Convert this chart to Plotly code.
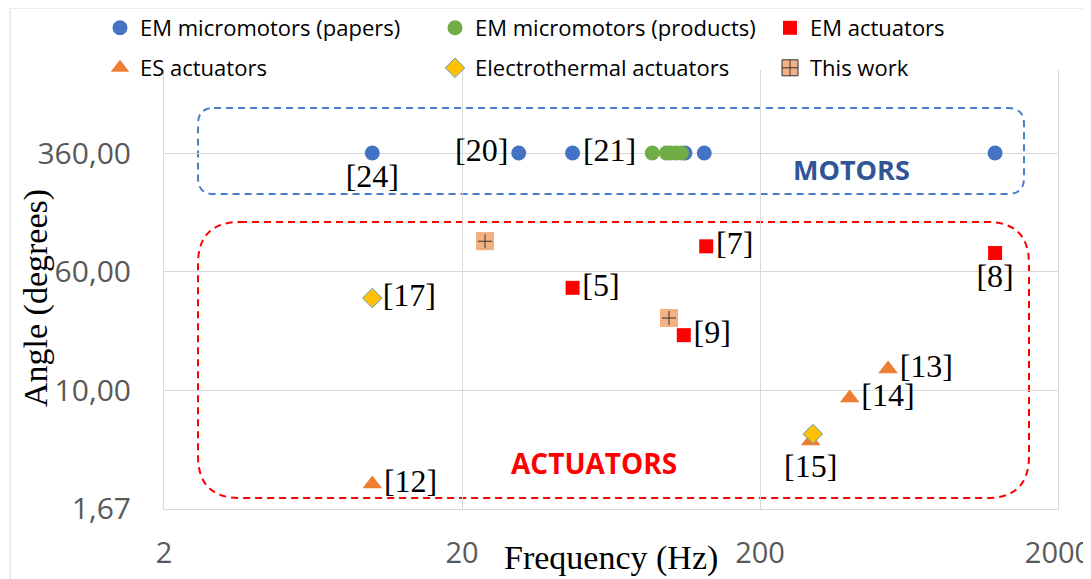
import plotly.graph_objects as go

# ---------------- data ----------------
papers_freq = [10, 31, 47, 112, 130, 1230]
papers_angle = [360, 360, 360, 360, 360, 360]
papers_refs = ["[24]", "[20]", "[21]", "", "", ""]
papers_pos = ["bottom center", "middle left", "middle right", "middle right", "middle right", "middle right"]

products_freq = [87, 97, 100, 104, 109]
products_angle = [360, 360, 360, 360, 360]

em_act_freq = [47, 132, 111, 1230]
em_act_angle = [47, 88, 23, 79.5]
em_act_refs = ["[5]", "[7]", "[9]", "[8]"]
em_act_pos = ["middle right", "middle right", "middle right", "bottom center"]

es_freq = [10, 538, 400, 296]
es_angle = [2.43, 13.8, 8.9, 4.65]
es_refs = ["[12]", "[13]", "[14]", "[15]"]
es_pos = ["middle right", "middle right", "middle right", "bottom center"]

et_freq = [10, 301]
et_angle = [40.3, 5.17]
et_refs = ["[17]", ""]
et_pos = ["middle right", "middle right"]

this_freq = [23.9, 99]
this_angle = [95, 29.8]

x_tickvals = [2, 20, 200, 2000]
x_ticktext = ["2", "20", "200", "2000"]
y_tickvals = [1.667, 10, 60, 360]
y_ticktext = ["1,67", "10,00", "60,00", "360,00"]

# ---------------- layout geometry ----------------
OFF = 8  # page body margin
W, H = 1083, 571
L, R, T, B = 156, 33, 62, 70
PW, PH = W - L - R, H - T - B


def sx(xs):
    # screen x -> paper fraction
    return (xs - OFF - L) / PW


def sy(ys):
    # screen y -> paper fraction
    return (H - B - (ys - OFF)) / PH


LAB = dict(family="Liberation Serif", size=32, color="black")

fig = go.Figure()
fig.add_trace(go.Scatter(x=papers_freq, y=papers_angle, mode="markers+text", name="EM micromotors (papers)",
                         marker=dict(symbol="circle", size=15, color="#4472C4"),
                         text=papers_refs, textposition=papers_pos, textfont=LAB, legend="legend"))
fig.add_trace(go.Scatter(x=products_freq, y=products_angle, mode="markers", name="EM micromotors (products)",
                         marker=dict(symbol="circle", size=15, color="#70AD47"), legend="legend"))
fig.add_trace(go.Scatter(x=em_act_freq, y=em_act_angle, mode="markers+text", name="EM actuators",
                         marker=dict(symbol="square", size=14, color="#FF0000"),
                         text=em_act_refs, textposition=em_act_pos, textfont=LAB, legend="legend"))
fig.add_trace(go.Scatter(x=es_freq, y=es_angle, mode="markers+text", name="ES actuators",
                         marker=dict(symbol="triangle-up", size=17, color="#ED7D31"),
                         text=es_refs, textposition=es_pos, textfont=LAB, legend="legend2"))
fig.add_trace(go.Scatter(x=et_freq, y=et_angle, mode="markers+text", name="Electrothermal actuators",
                         marker=dict(symbol="diamond", size=15, color="#FFC000",
                                     line=dict(color="#5B9BD5", width=1)),
                         text=et_refs, textposition=et_pos, textfont=LAB, legend="legend2"))
fig.add_trace(go.Scatter(x=this_freq, y=this_angle, mode="markers", name="This work",
                         marker=dict(symbol="square-cross", size=16, color="#F4B183",
                                     line=dict(color="#333333", width=1)), legend="legend2"))
fig.add_trace(go.Scatter(x=this_freq, y=this_angle, mode="markers", showlegend=False, hoverinfo="skip",
                         marker=dict(symbol="square-open", size=16, color="#F4B183",
                                     line=dict(color="#F4B183", width=2))))


def rounded(x0, y0, x1, y1, r):
    # screen pixel coords -> paper path with rounded corners
    pts = [
        f"M {sx(x0 + r)},{sy(y0)}",
        f"L {sx(x1 - r)},{sy(y0)}",
        f"Q {sx(x1)},{sy(y0)} {sx(x1)},{sy(y0 + r)}",
        f"L {sx(x1)},{sy(y1 - r)}",
        f"Q {sx(x1)},{sy(y1)} {sx(x1 - r)},{sy(y1)}",
        f"L {sx(x0 + r)},{sy(y1)}",
        f"Q {sx(x0)},{sy(y1)} {sx(x0)},{sy(y1 - r)}",
        f"L {sx(x0)},{sy(y0 + r)}",
        f"Q {sx(x0)},{sy(y0)} {sx(x0 + r)},{sy(y0)}",
        "Z",
    ]
    return " ".join(pts)


shapes = [
    dict(type="path", xref="paper", yref="paper", path=rounded(198, 108, 1024, 194, 16),
         line=dict(color="#4A7EC7", width=2, dash="7px,5px"), layer="below"),
    dict(type="path", xref="paper", yref="paper", path=rounded(198, 222, 1029, 498, 42),
         line=dict(color="#FF0000", width=2, dash="7px,5px"), layer="below"),
    dict(type="rect", xref="paper", yref="paper", x0=sx(10), y0=sy(8), x1=sx(1200), y1=sy(700),
         line=dict(color="#D9D9D9", width=1), layer="below"),
]

annotations = [
    dict(text="<b>MOTORS</b>", x=sx(851), y=sy(169), xref="paper", yref="paper", showarrow=False,
         font=dict(family="Open Sans", size=27, color="#2F5597"), xanchor="center", yanchor="middle"),
    dict(text="<b>ACTUATORS</b>", x=sx(594), y=sy(463), xref="paper", yref="paper", showarrow=False,
         font=dict(family="Open Sans", size=28, color="#FF0000"), xanchor="center", yanchor="middle"),
    dict(text="Frequency (Hz)", x=sx(611), y=sy(558), xref="paper", yref="paper", showarrow=False,
         font=dict(family="Liberation Serif", size=34, color="black"), xanchor="center", yanchor="middle"),
    dict(text="Angle (degrees)", x=sx(36), y=sy(298), xref="paper", yref="paper", showarrow=False,
         textangle=-90, font=dict(family="Liberation Serif", size=34, color="black"),
         xanchor="center", yanchor="middle"),
]

LEG = dict(orientation="h", font=dict(family="Open Sans", size=22, color="black"),
           bgcolor="rgba(0,0,0,0)", borderwidth=0, entrywidth=290, entrywidthmode="pixels",
           xanchor="left", yanchor="middle", itemwidth=30)

fig.update_layout(
    width=W, height=H,
    margin=dict(l=L, r=R, t=T, b=B, autoexpand=False),
    paper_bgcolor="white", plot_bgcolor="white",
    shapes=shapes, annotations=annotations,
    legend=dict(LEG, x=sx(100), y=sy(28)),
    legend2=dict(LEG, x=sx(100), y=sy(68)),
    xaxis=dict(type="log", range=[0.30103, 3.30103], tickvals=x_tickvals, ticktext=x_ticktext,
               showgrid=True, gridcolor="#D9D9D9", gridwidth=1, zeroline=False, automargin=False,
               showline=True, linecolor="#D9D9D9", linewidth=1, ticks="", ticklabelstandoff=18,
               ticklabeloverflow="allow",
               tickfont=dict(family="Open Sans", size=29, color="#595959")),
    yaxis=dict(type="log", range=[0.2219, 0.2219 + PH / 152.5], tickvals=y_tickvals, ticktext=y_ticktext,
               showgrid=True, gridcolor="#D9D9D9", gridwidth=1, zeroline=False, automargin=False,
               showline=True, mirror=True, linecolor="#D9D9D9", linewidth=1, ticks="", ticklabelstandoff=26,
               ticklabeloverflow="allow",
               tickfont=dict(family="Open Sans", size=30, color="#595959")),
    showlegend=True,
)

fig.write_html("out.html")
